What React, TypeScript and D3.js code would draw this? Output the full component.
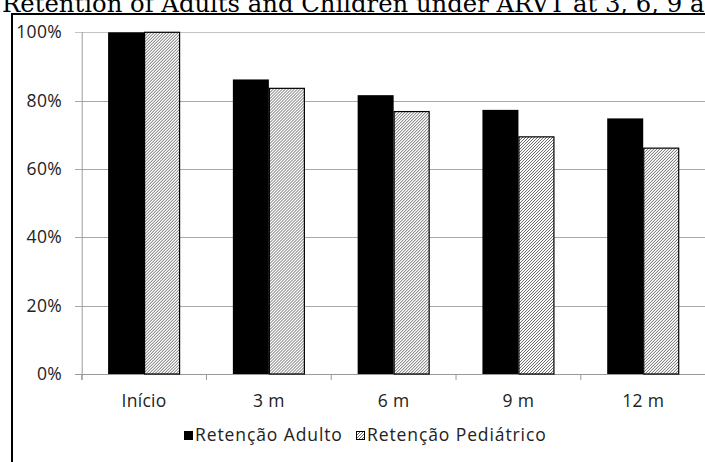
import React from "react";
import * as d3 from "d3";

// Retention data (percent of patients still under ARVT)
const categories = ["Início", "3 m", "6 m", "9 m", "12 m"];
const adultValues = [100, 86.2, 81.6, 77.3, 74.8];
const pediatricValues = [100, 83.6, 76.8, 69.4, 66.1];
const seriesNames = ["Retenção Adulto", "Retenção Pediátrico"];
const yTicks = [0, 20, 40, 60, 80, 100];
const titleText = "Retention of Adults and Children under ARVT at 3, 6, 9 and 12 months";

const W = 705;
const H = 462;
const labelFont = "'Open Sans', 'Noto Sans', sans-serif";

export default function App() {
  const x = d3.scaleBand<string>().domain(categories).range([81.7, 705.6]).padding(0);
  const xSub = d3
    .scaleBand<string>()
    .domain(["adult", "pediatric"])
    .range([0, x.bandwidth()])
    .paddingInner(0)
    .paddingOuter(0.733);
  const y = d3.scaleLinear().domain([0, 100]).range([374, 32.3]);
  const [x0, x1] = x.range();
  const boundaries = [...categories.map((c) => x(c)!), x1];

  return (
    <svg
      width={W}
      height={H}
      viewBox={`0 0 ${W} ${H}`}
      style={{ position: "absolute", left: 0, top: 0, background: "#fff" }}
    >
      <defs>
        <pattern id="hatch" width="3" height="3" patternUnits="userSpaceOnUse">
          <rect width="3" height="3" fill="#fff" />
          <path d="M-1,1 L1,-1 M0,3 L3,0 M2,4 L4,2" stroke="#333" strokeWidth="0.75" />
        </pattern>
      </defs>
      <rect width={W} height={H} fill="#fff" />

      {/* title, partly above the page edge */}
      <text x={2} y={11.5} fontFamily="'DejaVu Serif', serif" fontSize={24.3} fill="#000">
        {titleText}
      </text>

      {/* frame */}
      <line x1={12} x2={W} y1={14} y2={14} stroke="#000" strokeWidth={2} />
      <line x1={12} x2={12} y1={13} y2={H} stroke="#000" strokeWidth={2} />

      {/* horizontal gridlines and y labels */}
      {yTicks.map((t) => (
        <g key={t}>
          <line
            x1={75}
            x2={x1}
            y1={Math.round(y(t)) + 0.5}
            y2={Math.round(y(t)) + 0.5}
            stroke={t === 0 ? "#9a9a9a" : t === 100 ? "#c4c4c4" : "#a8a8a8"}
            strokeWidth={1}
          />
          <text
            x={62}
            y={y(t) + 6}
            textAnchor="end"
            fontFamily={labelFont}
            fontSize={17.5}
            letterSpacing={0.3}
            fill="#222"
          >
            {t}%
          </text>
        </g>
      ))}

      {/* y axis */}
      <line x1={x0 + 0.5} x2={x0 + 0.5} y1={y(100)} y2={y(0) + 6} stroke="#9a9a9a" />
      {/* category boundary ticks */}
      {boundaries.map((b, i) => (
        <line key={i} x1={b} x2={b} y1={y(0)} y2={y(0) + 6} stroke="#9a9a9a" />
      ))}

      {/* bars */}
      {categories.map((c, i) => (
        <g key={c} transform={`translate(${x(c)},0)`}>
          <rect
            x={xSub("adult")}
            y={y(adultValues[i])}
            width={xSub.bandwidth()}
            height={y(0) - y(adultValues[i])}
            fill="#000"
          />
          <rect
            x={xSub("pediatric")! + 0.5}
            y={y(pediatricValues[i])}
            width={xSub.bandwidth() - 1}
            height={y(0) - y(pediatricValues[i])}
            fill="url(#hatch)"
            stroke="#000"
            strokeWidth={1.2}
          />
          <text
            x={x.bandwidth() / 2}
            y={407}
            textAnchor="middle"
            fontFamily={labelFont}
            fontSize={17.5}
            letterSpacing={0.3}
            fill="#222"
          >
            {c}
          </text>
        </g>
      ))}

      {/* legend */}
      <g fontFamily={labelFont} fontSize={17.5} fill="#222" letterSpacing={0.9}>
        <rect x={184} y={431} width={9} height={9} fill="#000" />
        <text x={195} y={441}>{seriesNames[0]}</text>
        <rect x={356.5} y={431.5} width={8} height={8} fill="url(#hatch)" stroke="#000" />
        <text x={367} y={441}>{seriesNames[1]}</text>
      </g>
    </svg>
  );
}
